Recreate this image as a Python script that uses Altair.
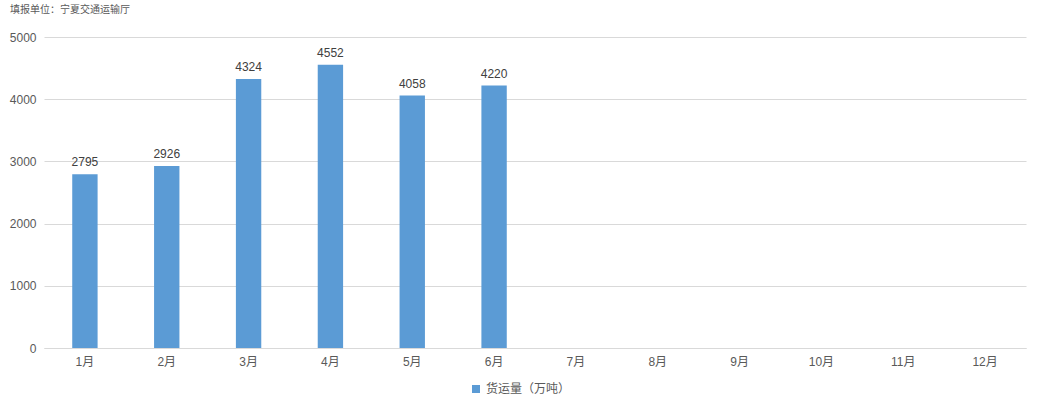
import altair as alt
import pandas as pd

# Monthly freight volume (10k tonnes); only Jan–Jun reported so far
months = ["1月", "2月", "3月", "4月", "5月", "6月", "7月", "8月", "9月", "10月", "11月", "12月"]
values = [2795, 2926, 4324, 4552, 4058, 4220]
series_name = "货运量（万吨）"

df = pd.DataFrame({
    "month": months[:len(values)],
    "value": values,
    "series": [series_name] * len(values),
})

FONT = "Liberation Sans, Noto Sans CJK SC, sans-serif"
TEXT = "#595959"

base = alt.Chart(df).encode(
    x=alt.X(
        "month:N",
        sort=months,
        scale=alt.Scale(domain=months, paddingInner=0.69, paddingOuter=0.345),
        axis=alt.Axis(
            title=None,
            labelAngle=0,
            labelPadding=8,
            labelFontSize=12,
            labelColor=TEXT,
            labelFont=FONT,
            ticks=False,
            domainColor="#D9D9D9",
            grid=False,
        ),
    ),
    y=alt.Y(
        "value:Q",
        scale=alt.Scale(domain=[0, 5000]),
        axis=alt.Axis(
            title=None,
            values=[0, 1000, 2000, 3000, 4000, 5000],
            format="d",
            labelPadding=8,
            labelFontSize=12,
            labelColor=TEXT,
            labelFont=FONT,
            ticks=False,
            domain=False,
            gridColor="#D9D9D9",
        ),
    ),
)

bars = base.mark_bar(color="#5B9BD5").encode(
    color=alt.Color(
        "series:N",
        scale=alt.Scale(range=["#5B9BD5"]),
        legend=alt.Legend(
            title=None,
            orient="none",
            legendX=426,
            legendY=346,
            symbolType="square",
            symbolSize=64,
            labelFontSize=12,
            labelColor=TEXT,
            labelFont=FONT,
        ),
    )
)

labels = base.mark_text(dy=-12, fontSize=12, color="#404040", font=FONT).encode(
    text="value:Q"
)

chart = (
    alt.layer(bars, labels)
    .properties(
        width=982,
        height=311,
        autosize=alt.AutoSizeParams(type="none"),
        padding={"left": 44, "top": 37, "right": 13, "bottom": 62},
        title=alt.TitleParams(
            "填报单位：宁夏交通运输厅",
            anchor="start",
            frame="group",
            dx=-34,
            offset=16,
            fontSize=10,
            fontWeight="normal",
            color=TEXT,
            font=FONT,
        ),
        background="white",
    )
    .configure_view(stroke=None)
)

chart.save("out.html", embed_options={"renderer": "svg", "actions": False})
